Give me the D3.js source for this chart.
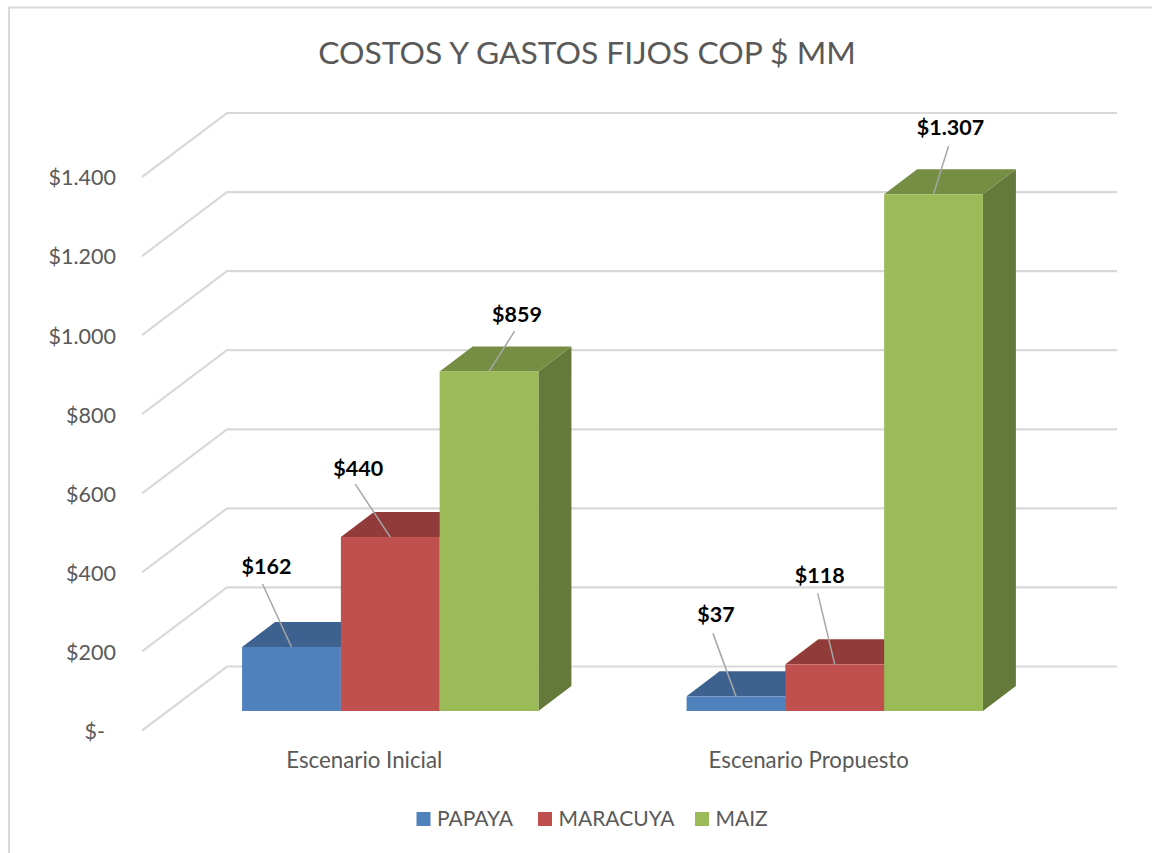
<!DOCTYPE html>
<html>
<head>
<meta charset="utf-8">
<title>Costos y gastos fijos</title>
<script src="https://d3js.org/d3.v7.min.js"></script>
<style>
  html, body { margin: 0; padding: 0; background: #fff; }
  svg { display: block; font-family: Lato, "Open Sans", sans-serif; }
</style>
</head>
<body>
<svg width="1152" height="853"></svg>
<script>
// values
var categories = ["Escenario Inicial", "Escenario Propuesto"];
var seriesNames = ["PAPAYA", "MARACUYA", "MAIZ"];
var papaya = [162, 37];
var maracuya = [440, 118];
var maiz = [859, 1307];
var yTicks = [0, 200, 400, 600, 800, 1000, 1200, 1400];
var title = "COSTOS Y GASTOS FIJOS COP $ MM";

var allSeries = [papaya, maracuya, maiz];

// colours: front, top, side
var colors = [
  { front: "#4f81bd", top: "#3d628f", side: "#3a5d88" },
  { front: "#c0504d", top: "#913c3a", side: "#8a3a37" },
  { front: "#9bbb59", top: "#768e44", side: "#657a3a" }
];

// where the label sits and where its leader starts, relative to the bar top centre
var labelShift = [
  [{ x: -25, y: -73, lx: -29, ly: -63 }, { x: -32, y: -61, lx: -35, ly: -53 }, { x: 28, y: -49, lx: 25.5, ly: -40 }],
  [{ x: -20, y: -74, lx: -23, ly: -63 }, { x: -15, y: -81, lx: -17, ly: -71 }, { x: 17, y: -59, lx: 15, ly: -48 }]
];

var svg = d3.select("svg");

var frontFloorY = 730.5;
var depthX = 85, depthY = 64;
var barDepthX = 33, barDepthY = 25;
// bars stand half way along the floor depth
var barOffX = (depthX - barDepthX) / 2;
var barOffY = (depthY - barDepthY) / 2;

var x0 = d3.scaleBand().domain(categories).range([142, 1031]);
var x1 = d3.scaleBand().domain(seriesNames).range([0, x0.bandwidth()]).paddingInner(0).paddingOuter(0.75);
var y = d3.scaleLinear().domain([0, 1400]).range([frontFloorY, frontFloorY - 553.5]);

var locale = d3.formatLocale({ decimal: ",", thousands: ".", grouping: [3], currency: ["$", ""] });
var money = locale.format("$,.0f");
function moneyLabel(v) { return v === 0 ? "$-" : money(v); }

// chart border
svg.append("path")
  .attr("d", "M9,853 V7.5 H1152")
  .attr("fill", "none").attr("stroke", "#d9d9d9").attr("stroke-width", 2);

svg.append("text")
  .attr("x", 587).attr("y", 64)
  .attr("text-anchor", "middle")
  .attr("font-size", 31.8)
  .attr("fill", "#595959")
  .text(title);

// grid: side wall + back wall
svg.append("g").selectAll("path").data(yTicks).enter().append("path")
  .attr("d", function(d) {
    var yy = y(d);
    return "M142," + yy + " L" + (142 + depthX) + "," + (yy - depthY) + " H1117";
  })
  .attr("fill", "none").attr("stroke", "#d9d9d9").attr("stroke-width", 2.2);

// y axis
var yAxis = d3.axisLeft(y).tickValues(yTicks).tickSize(0).tickPadding(26).tickFormat(moneyLabel);
var yG = svg.append("g").attr("transform", "translate(142,1)").call(yAxis);
yG.select(".domain").remove();
yG.selectAll("text")
  .attr("font-family", "Lato, sans-serif").attr("font-size", 21.5).attr("fill", "#595959")
  .attr("dx", function(d) { return d === 0 ? -11 : 0; });

// x axis
var xAxis = d3.axisBottom(x0).tickSize(0).tickPadding(0);
var xG = svg.append("g").attr("transform", "translate(0,752)").call(xAxis);
xG.select(".domain").remove();
xG.selectAll("text")
  .attr("font-family", "Lato, sans-serif").attr("font-size", 22.3).attr("fill", "#595959");

// bars, drawn group by group
var groups = svg.selectAll(".group").data(categories).enter().append("g")
  .attr("class", "group")
  .attr("transform", function(c) { return "translate(" + (x0(c) + barOffX) + "," + (-barOffY) + ")"; });

groups.each(function(c, ci) {
  var g = d3.select(this);
  seriesNames.forEach(function(s, si) {
    var v = allSeries[si][ci];
    var xl = x1(s), w = x1.bandwidth(), top = y(v), base = y(0);
    var col = colors[si];
    g.append("path")
      .attr("d", "M" + (xl + w) + "," + top + " l" + barDepthX + "," + (-barDepthY) + " V" + (base - barDepthY) + " L" + (xl + w) + "," + base + "Z")
      .attr("fill", col.side);
    g.append("path")
      .attr("d", "M" + xl + "," + top + " l" + barDepthX + "," + (-barDepthY) + " h" + w + " l" + (-barDepthX) + "," + barDepthY + "Z")
      .attr("fill", col.top);
    g.append("rect")
      .attr("x", xl).attr("y", top).attr("width", w).attr("height", base - top)
      .attr("fill", col.front);
  });
});

// labels and leaders on top of all bars
groups.each(function(c, ci) {
  var g = d3.select(this);
  seriesNames.forEach(function(s, si) {
    var v = allSeries[si][ci];
    var cx = x1(s) + x1.bandwidth() / 2, top = y(v);
    var sh = labelShift[ci][si];
    g.append("line")
      .attr("x1", cx + sh.lx).attr("y1", top + sh.ly)
      .attr("x2", cx).attr("y2", top)
      .attr("stroke", "#a6a6a6").attr("stroke-width", 1.5);
    g.append("text")
      .attr("x", cx + sh.x).attr("y", top + sh.y)
      .attr("text-anchor", "middle")
      .attr("font-size", 21.5).attr("font-weight", 700).attr("fill", "#000")
      .text(money(v));
  });
});

// legend
var legendX = [416.5, 538, 695];
var legend = svg.selectAll(".legend").data(seriesNames).enter().append("g")
  .attr("class", "legend")
  .attr("transform", function(d, i) { return "translate(" + legendX[i] + ",812)"; });
legend.append("rect").attr("width", 14).attr("height", 14)
  .attr("fill", function(d, i) { return colors[i].front; });
legend.append("text").attr("x", 20.5).attr("y", 14)
  .attr("font-size", 21).attr("fill", "#595959")
  .text(function(d) { return d; });
</script>
</body>
</html>
